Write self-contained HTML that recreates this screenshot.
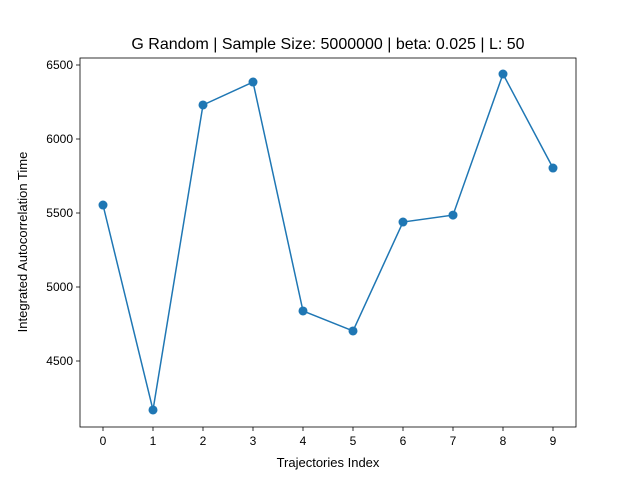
<!DOCTYPE html>
<html><head><meta charset="utf-8"><style>
body{margin:0;background:#fff;}
svg{display:block;font-family:"Liberation Sans","DejaVu Sans",sans-serif;}
</style></head><body>
<svg id="chart" width="640" height="480">
<rect x="0" y="0" width="640" height="480" fill="#fff"/>
<text x="328" y="49" text-anchor="middle" font-size="16">G Random | Sample Size: 5000000 | beta: 0.025 | L: 50</text>
<g id="axes"></g>
<text x="328" y="467" text-anchor="middle" font-size="13">Trajectories Index</text>
<text transform="translate(27,242) rotate(-90)" text-anchor="middle" font-size="13">Integrated Autocorrelation Time</text>
</svg>
<script>
const categories=[0,1,2,3,4,5,6,7,8,9];
const values=[5554,4169,6230,6385,4838,4703,5439,5486,6439,5804];
const yTicks=[4500,5000,5500,6000,6500];
const L=80,R=576,T=58,B=427;
function xs(i){return 103+(i-0)*50;}
function ys(v){return 65+(6500-v)*0.148;}
const g=document.getElementById('axes');
const NS='http://www.w3.org/2000/svg';
function mk(t,a){const e=document.createElementNS(NS,t);for(const k in a)e.setAttribute(k,a[k]);g.appendChild(e);return e;}
categories.forEach(c=>{
 const t=mk('line',{x1:xs(c),x2:xs(c),y1:B,y2:B+4,stroke:'#000','stroke-width':0.8});
 
 
 const l=mk('text',{x:xs(c),y:B+18,'text-anchor':'middle','font-size':12});
 l.textContent=c;
 
 
});
yTicks.forEach(v=>{
 const t=mk('line',{x1:L-4,x2:L,y1:ys(v),y2:ys(v),stroke:'#000','stroke-width':0.8});
 
 
 const l=mk('text',{x:L-7,y:ys(v)+4,'text-anchor':'end','font-size':12});
 l.textContent=v;
 
 
});
const line=mk('polyline',{points:values.map((v,i)=>xs(categories[i])+','+ys(v)).join(' '),fill:'none',stroke:'#1f77b4','stroke-width':1.5});


values.forEach((v,i)=>{
 const p=mk('circle',{cx:xs(categories[i]),cy:ys(v),r:4.5,fill:'#1f77b4'});
 
 
});
const f=mk('rect',{x:L,y:T,width:R-L,height:B-T,fill:'none',stroke:'#000','stroke-width':0.8});


</script>
</body></html>
